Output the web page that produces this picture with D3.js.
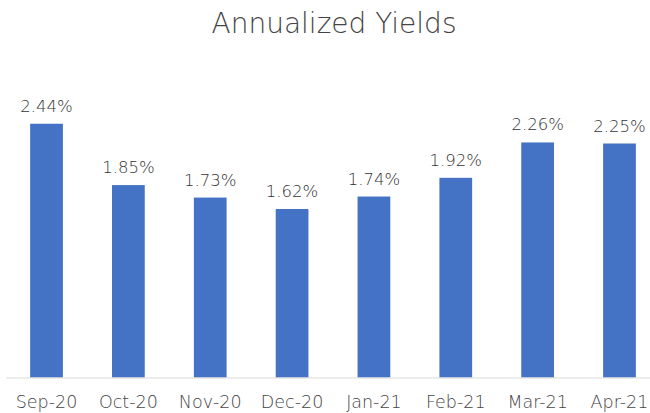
<!DOCTYPE html>
<html>
<head>
<meta charset="utf-8">
<script src="https://cdn.jsdelivr.net/npm/d3@7"></script>
<style>
  html, body { margin: 0; padding: 0; background: #fff; }
  #chart { width: 650px; height: 413px; }
</style>
</head>
<body>
<div id="chart"></div>
<script>
const months = ["Sep-20", "Oct-20", "Nov-20", "Dec-20", "Jan-21", "Feb-21", "Mar-21", "Apr-21"];
const yields = [2.44, 1.85, 1.73, 1.62, 1.74, 1.92, 2.26, 2.25];
const chartTitle = "Annualized Yields";

const width = 650;
const height = 413;
const fontFamily = "'DejaVu Sans', sans-serif";
const fontWeight = 200;

const svg = d3.select("#chart").append("svg")
  .attr("width", width)
  .attr("height", height)
  .style("display", "block");

// plot area
const baseline = 377.5;
const x = d3.scaleBand()
  .domain(months)
  .range([5.6, 660.4])
  .paddingInner(0.6)
  .paddingOuter(0.3);

const y = d3.scaleLinear()
  .domain([0, 3])
  .range([baseline, baseline - 312]);

svg.append("text")
  .attr("x", 334)
  .attr("y", 33)
  .attr("text-anchor", "middle")
  .attr("font-family", fontFamily)
  .attr("font-weight", fontWeight)
  .attr("font-size", 28)
  .attr("fill", "#444")
  .text(chartTitle);

svg.append("g")
  .selectAll("rect")
  .data(months)
  .join("rect")
  .attr("x", d => x(d))
  .attr("y", (d, i) => y(yields[i]))
  .attr("width", x.bandwidth())
  .attr("height", (d, i) => baseline - y(yields[i]))
  .attr("fill", "#4472C4");

// axis line
svg.append("line")
  .attr("x1", 6).attr("x2", width)
  .attr("y1", baseline + 0.5).attr("y2", baseline + 0.5)
  .attr("stroke", "#d9d9d9")
  .attr("stroke-width", 1);

// data labels
svg.append("g")
  .selectAll("text")
  .data(months)
  .join("text")
  .attr("x", d => x(d) + x.bandwidth() / 2)
  .attr("y", (d, i) => y(yields[i]) - 12)
  .attr("text-anchor", "middle")
  .attr("font-family", fontFamily)
  .attr("font-weight", fontWeight)
  .attr("font-size", 16.5)
  .attr("fill", "#333")
  .text((d, i) => yields[i].toFixed(2) + "%");

// category labels
svg.append("g")
  .selectAll("text")
  .data(months)
  .join("text")
  .attr("x", d => x(d) + x.bandwidth() / 2)
  .attr("y", 408)
  .attr("text-anchor", "middle")
  .attr("font-family", fontFamily)
  .attr("font-weight", fontWeight)
  .attr("font-size", 17.5)
  .attr("fill", "#444")
  .text(d => d);
</script>
</body>
</html>
